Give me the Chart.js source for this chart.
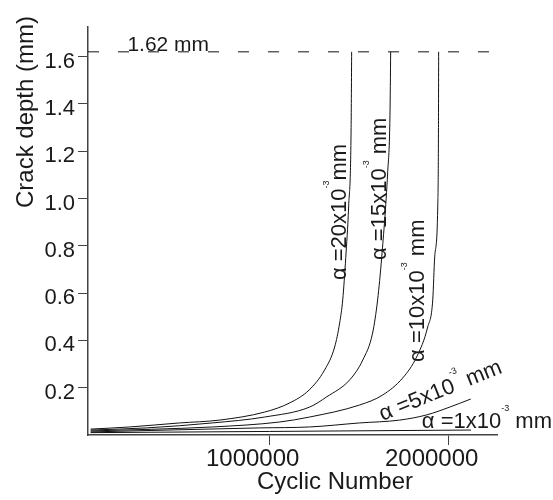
<!DOCTYPE html>
<html lang="en">
<head>
<meta charset="UTF-8">
<title>Crack depth vs cyclic number</title>
<script src="https://cdn.jsdelivr.net/npm/chart.js"></script>
<style>
    body { margin: 0; background: #fff; }
    #wrap { width: 553px; height: 500px; }
</style>
</head>
<body>
<div id="wrap"><canvas id="crackChart" width="553" height="500"></canvas></div>
<script>
// values: cycles and crack depth (mm) for each alpha
const cycles20 = [0, 218000, 497000, 720000, 972000, 1110000, 1220000, 1307000, 1363000, 1391000, 1408000, 1425000, 1441000, 1455000, 1458000];
const depth20  = [0.025, 0.034, 0.051, 0.063, 0.097, 0.135, 0.19, 0.275, 0.372, 0.474, 0.571, 0.75, 0.964, 1.3, 1.62];

const cycles15 = [0, 313000, 680000, 972000, 1223000, 1318000, 1447000, 1520000, 1575000, 1603000, 1626000, 1659000, 1672000, 1676000];
const depth15  = [0.021, 0.03, 0.051, 0.076, 0.118, 0.161, 0.233, 0.317, 0.431, 0.571, 0.753, 1.108, 1.35, 1.62];

const cycles10 = [0, 680000, 1056000, 1223000, 1503000, 1631000, 1743000, 1821000, 1883000, 1911000, 1922000, 1939000, 1943000, 1944000];
const depth10  = [0.017, 0.034, 0.055, 0.076, 0.127, 0.169, 0.241, 0.33, 0.457, 0.571, 0.753, 0.964, 1.3, 1.62];

const cycles5 = [0, 944000, 1223000, 1503000, 1726000, 1877000, 2006000, 2123000];
const depth5  = [0.013, 0.03, 0.034, 0.051, 0.063, 0.085, 0.118, 0.152];

const cycles1 = [0, 1000000, 2125000];
const depth1  = [0.01, 0.015, 0.021];

const criticalDepth = 1.62;
const xTicks = [1000000, 2000000];
const yTicks = [0.2, 0.4, 0.6, 0.8, 1.0, 1.2, 1.4, 1.6];
const alphaValues = ['20', '15', '10', '5', '1'];

const FONT = '"Liberation Sans", Arial, sans-serif';
const X_MIN = -15000, X_MAX = 2270000;

function toPoints(xs, ys) {
    return xs.map((x, i) => ({ x: x, y: ys[i] }));
}

function curve(xs, ys) {
    return {
        data: toPoints(xs, ys),
        showLine: true,
        borderColor: '#111',
        borderWidth: 1,
        pointRadius: 0,
        cubicInterpolationMode: 'monotone'
    };
}

// where each alpha label sits (data coords) and its angle
const labelPlaces = [
    { x: 1425000, y: 0.655, angle: -Math.PI / 2, gap: '' },
    { x: 1648000, y: 0.74,  angle: -Math.PI / 2, gap: ' ' },
    { x: 1860000, y: 0.309, angle: -Math.PI / 2, gap: ' ' },
    { x: 1631000, y: 0.059, angle: -22 * Math.PI / 180, gap: ' ' },
    { x: 1850000, y: 0.03,  angle: 0, gap: ' ' }
];

function drawRich(ctx, parts, px, py, angle) {
    ctx.save();
    ctx.translate(px, py);
    ctx.rotate(angle);
    ctx.textBaseline = 'alphabetic';
    let cur = 0;
    parts.forEach(p => {
        ctx.font = p.size + 'px ' + FONT;
        ctx.fillText(p.t, cur, -(p.rise || 0));
        cur += ctx.measureText(p.t).width;
    });
    ctx.restore();
}

const textPlugin = {
    id: 'textPlugin',
    afterDatasetsDraw(chart) {
        const { ctx, scales: { x, y } } = chart;
        ctx.save();
        ctx.fillStyle = '#1a1a1a';

        // axis titles
        ctx.font = '24px ' + FONT;
        ctx.textAlign = 'center';
        ctx.textBaseline = 'alphabetic';
        ctx.fillText('Cyclic Number', 335, 489);
        ctx.save();
        ctx.translate(33, 112);
        ctx.rotate(-Math.PI / 2);
        ctx.fillText('Crack depth (mm)', 0, 0);
        ctx.restore();

        // critical depth note
        ctx.textAlign = 'left';
        ctx.font = '21px ' + FONT;
        ctx.fillText('1.62 mm', x.getPixelForValue(205000), y.getPixelForValue(criticalDepth) - 1);

        alphaValues.forEach((a, i) => {
            const pl = labelPlaces[i];
            drawRich(ctx, [
                { t: 'α =' + a + 'x10', size: 22 },
                { t: '-3', size: 9, rise: 17 },
                { t: pl.gap + 'mm', size: 22 }
            ], x.getPixelForValue(pl.x), y.getPixelForValue(pl.y), pl.angle);
        });
        ctx.restore();
    }
};

new Chart(document.getElementById('crackChart'), {
    type: 'scatter',
    data: {
        datasets: [
            curve(cycles20, depth20),
            curve(cycles15, depth15),
            curve(cycles10, depth10),
            curve(cycles5, depth5),
            curve(cycles1, depth1),
            {
                data: [{ x: X_MIN, y: criticalDepth }, { x: X_MAX, y: criticalDepth }],
                showLine: true,
                borderColor: '#111',
                borderWidth: 1,
                borderDash: [11, 19],
                pointRadius: 0
            }
        ]
    },
    options: {
        responsive: false,
        animation: false,
        layout: { padding: { top: 27, right: 56, left: 0, bottom: 0 } },
        plugins: { legend: { display: false }, tooltip: { enabled: false } },
        scales: {
            x: {
                type: 'linear',
                min: X_MIN,
                max: X_MAX,
                afterBuildTicks: s => { s.ticks = xTicks.map(v => ({ value: v })); },
                afterFit: s => { s.height = 65; },
                border: { color: '#444', width: 1.5 },
                grid: { drawOnChartArea: false, tickLength: 10, color: '#444' },
                ticks: {
                    font: { family: FONT, size: 24 },
                    color: '#1a1a1a',
                    padding: 0,
                    labelOffset: -17,
                    maxRotation: 0,
                    callback: v => String(v)
                }
            },
            y: {
                min: 0,
                max: 1.725,
                afterBuildTicks: s => { s.ticks = yTicks.map(v => ({ value: v })); },
                afterFit: s => { s.width = 88; },
                border: { color: '#444', width: 1.5 },
                grid: { drawOnChartArea: false, tickLength: 10, color: '#444' },
                ticks: {
                    font: { family: FONT, size: 22 },
                    color: '#1a1a1a',
                    padding: 3,
                    labelOffset: 5,
                    callback: v => v.toFixed(1)
                }
            }
        }
    },
    plugins: [textPlugin]
});
</script>
</body>
</html>
